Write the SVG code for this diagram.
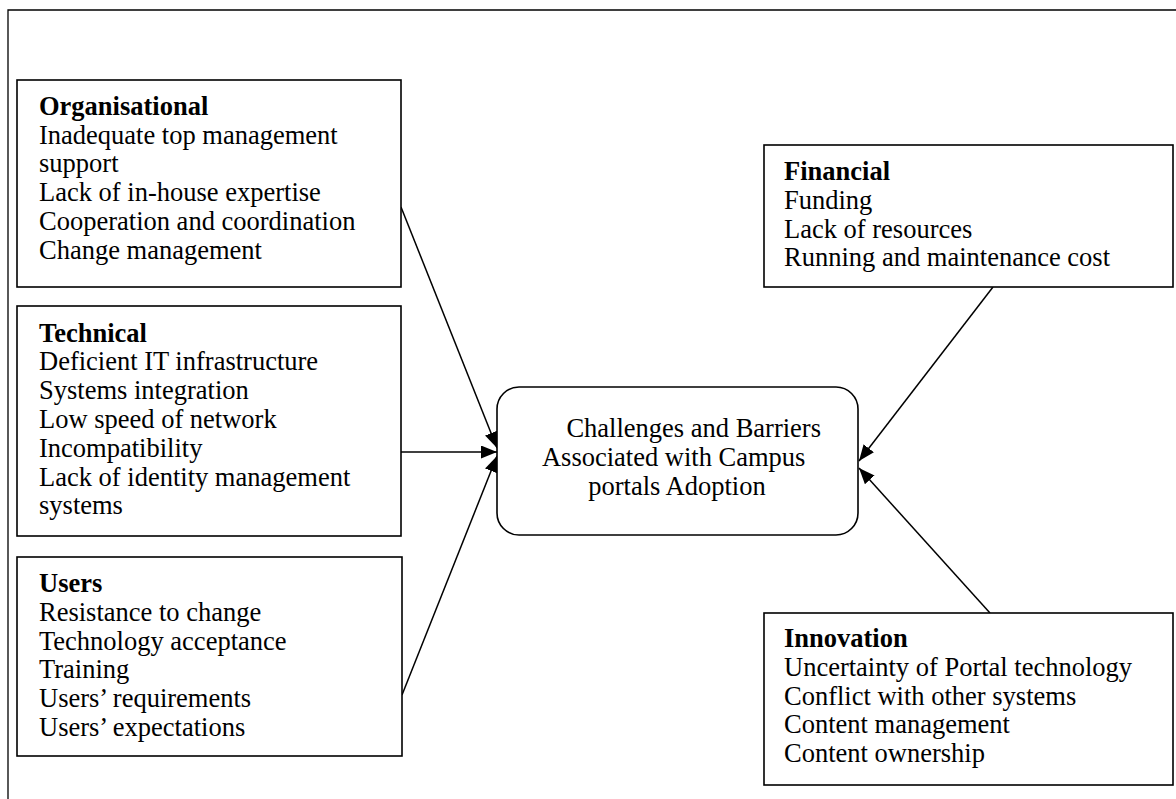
<svg xmlns="http://www.w3.org/2000/svg" width="1176" height="799" viewBox="0 0 1176 799">
  <style>
    .box { fill: #ffffff; stroke: #000000; stroke-width: 1.6; }
    .frame { fill: none; stroke: #000000; stroke-width: 1.3; }
    .txt { font-family: "Liberation Serif", "Times New Roman", serif; font-size: 26.5px; fill: #000000; }
    .hd { font-weight: bold; }
    .link { fill: none; stroke: #000000; stroke-width: 1.5; }
  </style>
  <defs>
    <marker id="arrow" markerUnits="userSpaceOnUse" markerWidth="18" markerHeight="14" refX="16" refY="6.5" orient="auto">
      <path d="M0,0 L16,6.5 L0,13 z" fill="#000000"/>
    </marker>
  </defs>

  <rect width="1176" height="799" fill="#ffffff"/>
  <!-- page frame -->
  <path class="frame" d="M8,799 V10 H1176"/>

  <!-- connectors -->
  <g id="connectors">
    <line class="link" x1="401" y1="207" x2="497" y2="448" marker-end="url(#arrow)"/>
    <line class="link" x1="401" y1="452" x2="497" y2="452" marker-end="url(#arrow)"/>
    <line class="link" x1="402" y1="695" x2="497" y2="456" marker-end="url(#arrow)"/>
    <line class="link" x1="993" y1="287" x2="859" y2="461" marker-end="url(#arrow)"/>
    <line class="link" x1="990" y1="613" x2="859" y2="468" marker-end="url(#arrow)"/>
  </g>

  <g id="organisational">
    <rect class="box" x="17" y="80" width="384" height="207"/>
    <text class="txt" x="39">
      <tspan class="hd" x="39" y="115">Organisational</tspan>
      <tspan x="39" y="143.7">Inadequate top management</tspan>
      <tspan x="39" y="172.4">support</tspan>
      <tspan x="39" y="201.1">Lack of in-house expertise</tspan>
      <tspan x="39" y="229.8">Cooperation and coordination</tspan>
      <tspan x="39" y="258.5">Change management</tspan>
    </text>
  </g>

  <g id="technical">
    <rect class="box" x="17" y="306" width="384" height="230"/>
    <text class="txt" x="39">
      <tspan class="hd" x="39" y="341.5">Technical</tspan>
      <tspan x="39" y="370.3">Deficient IT infrastructure</tspan>
      <tspan x="39" y="399.1">Systems integration</tspan>
      <tspan x="39" y="427.9">Low speed of network</tspan>
      <tspan x="39" y="456.7">Incompatibility</tspan>
      <tspan x="39" y="485.5">Lack of identity management</tspan>
      <tspan x="39" y="514.3">systems</tspan>
    </text>
  </g>

  <g id="users">
    <rect class="box" x="17" y="557" width="385" height="199"/>
    <text class="txt" x="39">
      <tspan class="hd" x="39" y="592">Users</tspan>
      <tspan x="39" y="620.8">Resistance to change</tspan>
      <tspan x="39" y="649.6">Technology acceptance</tspan>
      <tspan x="39" y="678.4">Training</tspan>
      <tspan x="39" y="707.2">Users’ requirements</tspan>
      <tspan x="39" y="736">Users’ expectations</tspan>
    </text>
  </g>

  <g id="challenges">
    <rect class="box" x="497" y="387" width="361" height="148" rx="22" ry="22"/>
    <text class="txt" text-anchor="middle">
      <tspan x="697" y="437">Challenges and Barriers</tspan>
      <tspan x="677" y="466">Associated with Campus</tspan>
      <tspan x="677" y="495">portals Adoption</tspan>
    </text>
  </g>

  <g id="financial">
    <rect class="box" x="764" y="145" width="409" height="142"/>
    <text class="txt" x="784">
      <tspan class="hd" x="784" y="180">Financial</tspan>
      <tspan x="784" y="208.8">Funding</tspan>
      <tspan x="784" y="237.6">Lack of resources</tspan>
      <tspan x="784" y="266.4">Running and maintenance cost</tspan>
    </text>
  </g>

  <g id="innovation">
    <rect class="box" x="764" y="613" width="409" height="172"/>
    <text class="txt" x="784">
      <tspan class="hd" x="784" y="647">Innovation</tspan>
      <tspan x="784" y="675.8">Uncertainty of Portal technology</tspan>
      <tspan x="784" y="704.6">Conflict with other systems</tspan>
      <tspan x="784" y="733.4">Content management</tspan>
      <tspan x="784" y="762.2">Content ownership</tspan>
    </text>
  </g>
</svg>
